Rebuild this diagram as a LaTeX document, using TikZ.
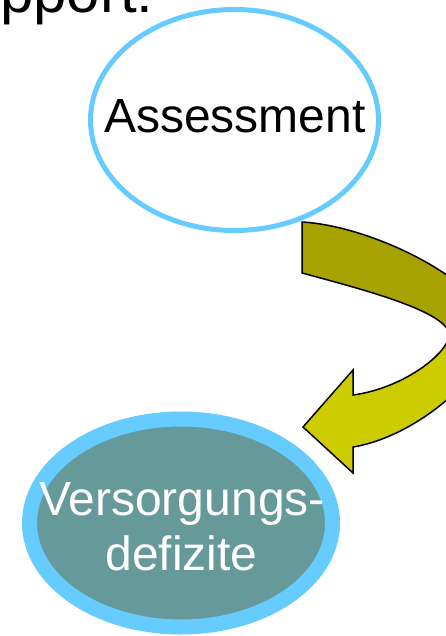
\documentclass[tikz,border=0pt]{standalone}
\usepackage{fontspec}
\setmainfont{Liberation Sans}
\usetikzlibrary{shapes.geometric}
\definecolor{ringblue}{HTML}{66CCFF}
\definecolor{tealfill}{HTML}{669999}
\definecolor{arrowdark}{HTML}{A6A300}
\definecolor{arrowlight}{HTML}{CCCC00}
\begin{document}
\begin{tikzpicture}[x=1pt,y=-1pt,
  bigtext/.style={font=\fontsize{48}{55}\selectfont, inner sep=0pt, anchor=base},
  ring/.style={ellipse, draw=ringblue, inner sep=0pt}]
\useasboundingbox (0,0) rectangle (446,636);
\clip (0,0) rectangle (446,636);
\node[font=\fontsize{60}{66}\selectfont, anchor=base west, inner sep=0pt] (title) at (0,13) {pport:};
\node[ring, line width=5pt, minimum width=288pt, minimum height=221pt] (assess) at (234.5,120) {};
\node[bigtext] (assesstxt) at (235,133) {Assessment};
\node[ring, fill=tealfill, line width=15pt, minimum width=303pt, minimum height=208pt] (vers) at (181,523) {};
\node[bigtext, text=white] (v1) at (182,515) {Versorgungs-};
\node[bigtext, text=white] (v2) at (181.5,570) {defizite};
\def\arrowpath{(302,222) .. controls (375,226) and (490,285) .. (490,330) .. controls (490,375) and (415,437) .. (353,447) -- (353,473) -- (303,427) -- (353,370) -- (353,395) .. controls (405,388) and (449,352) .. (449,335) .. controls (449,312) and (365,290) .. (302,273) -- cycle}
\fill[arrowlight] \arrowpath;
\begin{scope}
  \clip (0,0) rectangle (446,338);
  \fill[arrowdark] \arrowpath;
\end{scope}
\draw[line width=1.5pt, line join=miter] \arrowpath;
\end{tikzpicture}
\end{document}
